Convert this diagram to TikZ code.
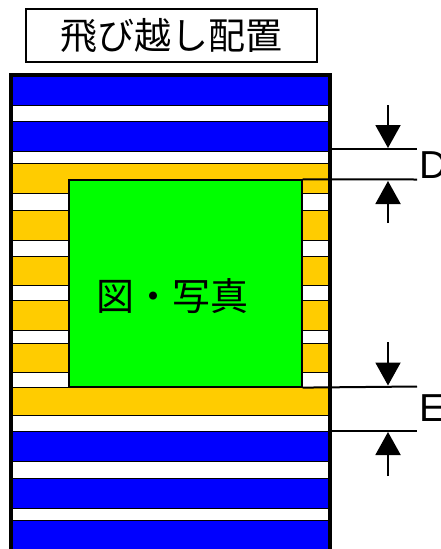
\documentclass[tikz,border=0pt]{standalone}
\usepackage{fontspec}
\setmainfont{Liberation Sans}
\newfontfamily\cjk{Noto Sans CJK JP}
\usetikzlibrary{arrows.meta}
\definecolor{bandblue}{RGB}{0,0,255}
\definecolor{bandorange}{RGB}{255,204,0}
\definecolor{boxgreen}{RGB}{0,255,0}
\begin{document}
\begin{tikzpicture}[x=1pt,y=-1pt,
  stripe/.style={draw=black,line width=1pt},
  dimline/.style={draw=black,line width=2pt},
  dimarrow/.style={draw=black,line width=2pt,-{Triangle[width=25pt,length=23pt]}},
  letter/.style={font=\fontsize{39}{39}\selectfont,inner sep=0pt,anchor=base west},
]
\useasboundingbox (0,0) rectangle (440,549);
\fill[white] (0,0) rectangle (440,549);
% title
\node[draw=black,line width=1.3pt,minimum width=291pt,minimum height=53pt,inner sep=0pt,
  font=\cjk\fontsize{37}{37}\selectfont] (title) at (171.5,35.5) {飛び越し配置};
% stripes
\foreach \a/\b/\c in {76/105/bandblue,105/121/white,121/151/bandblue,151/163/white,
  163/193/bandorange,193/210/white,210/240/bandorange,240/256/white,256/285/bandorange,
  285/300/white,300/330/bandorange,330/343/white,343/372/bandorange,372/387/white,
  387/415/bandorange,415/431/white,431/461/bandblue,461/478/white,478/508/bandblue,
  508/520/white,520/560/bandblue}
  \draw[stripe,fill=\c] (12,\a) rectangle (329,\b);
% outer frame
\draw[line width=3.5pt] (10.5,580) -- (10.5,75) -- (330,75) -- (330,580);
% picture box
\node[draw=black,line width=1.2pt,fill=boxgreen,minimum width=233pt,minimum height=207pt,inner sep=0pt]
  (pic) at (185.5,283.5) {};
\node[font=\cjk\fontsize{38}{38}\selectfont,inner sep=0pt] (pictext) at (172.5,296) {図・写真};
% dimension lines
\coordinate (d1a) at (330,149);
\coordinate (d1b) at (417,149);
\coordinate (d2b) at (417,179.5);
\coordinate (e1b) at (417,386.5);
\coordinate (e2a) at (330,430.5);
\coordinate (e2b) at (417,430.5);
\draw[dimline] (d1a) -- (d1b);
\draw[dimline] (pic.north east) -- (d2b);
\draw[dimline] (pic.south east) -- (e1b);
\draw[dimline] (e2a) -- (e2b);
% arrows
\coordinate (dda) at (388,105);
\coordinate (ddb) at (388,148);
\coordinate (dua) at (388,223);
\coordinate (dub) at (388,181);
\coordinate (eda) at (388,342);
\coordinate (edb) at (388,385.5);
\coordinate (eua) at (388,476);
\coordinate (eub) at (388,432);
\draw[dimarrow] (dda) -- (ddb);
\draw[dimarrow] (dua) -- (dub);
\draw[dimarrow] (eda) -- (edb);
\draw[dimarrow] (eua) -- (eub);
% labels
\node[letter] (D) at (419,178.5) {D};
\node[letter] (E) at (419,421.5) {E};
\end{tikzpicture}
\end{document}
